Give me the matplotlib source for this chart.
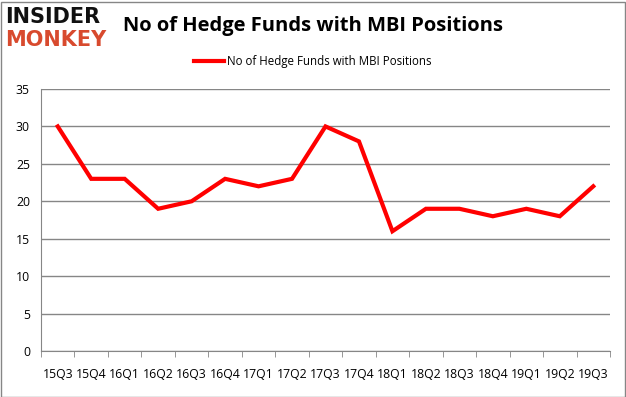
import matplotlib.pyplot as plt
import numpy as np

plt.rcParams['font.family'] = 'Open Sans'

quarters = ['15Q3', '15Q4', '16Q1', '16Q2', '16Q3', '16Q4', '17Q1', '17Q2', '17Q3',
            '17Q4', '18Q1', '18Q2', '18Q3', '18Q4', '19Q1', '19Q2', '19Q3']
hedge_funds = [30, 23, 23, 19, 20, 23, 22, 23, 30, 28, 16, 19, 19, 18, 19, 18, 22]
y_ticks = [0, 5, 10, 15, 20, 25, 30, 35]

W, H = 626, 397
fig = plt.figure(figsize=(W / 100, H / 100), dpi=100)
ax = fig.add_axes([41 / W, 1 - 351 / H, (610 - 41) / W, (351 - 89) / H])

x = np.arange(len(quarters))
ax.plot(x, hedge_funds, color='#ff0000', linewidth=3, solid_joinstyle='miter',
        label='No of Hedge Funds with MBI Positions')

ax.set_xlim(-0.5, len(quarters) - 0.5)
ax.set_ylim(0, 35)
ax.set_yticks(y_ticks)
ax.set_xticks(x)
ax.set_xticklabels(quarters, fontsize=8.8)
ax.set_xticks(np.arange(-0.5, len(quarters)), minor=True)
ax.tick_params(axis='x', which='major', length=0, pad=12)
ax.tick_params(axis='x', which='minor', length=4, color='#868686')
ax.tick_params(axis='y', length=0, labelsize=8.8, pad=8)
ax.grid(axis='y', color='#868686', linewidth=1)
ax.set_axisbelow(True)
for side in ['top', 'right']:
    ax.spines[side].set_visible(False)
ax.spines['left'].set_color('#868686')
ax.spines['bottom'].set_color('#868686')

fig.text(313 / W, 1 - 26 / H, 'No of Hedge Funds with MBI Positions', ha='center', va='center',
         fontsize=14.5, fontweight='bold')
fig.text(5 / W, 1 - 17 / H, 'INSIDER', ha='left', va='center', fontsize=15,
         fontweight='heavy', family='DejaVu Sans', color='#111111')
fig.text(5 / W, 1 - 40 / H, 'MONKEY', ha='left', va='center', fontsize=15,
         fontweight='heavy', family='DejaVu Sans', color='#d84a2e')

leg = fig.legend(loc='center', bbox_to_anchor=(313 / W, 1 - 62 / H), frameon=False,
                 fontsize=8.3, handlelength=2.6, handletextpad=0.3)

fig.add_artist(plt.Rectangle((0.5 / W, 0.5 / H), 1 - 2 / W, 1 - 2 / H, transform=fig.transFigure,
                             fill=False, edgecolor='#868686', linewidth=1))

fig.savefig('out.png', dpi=100)
